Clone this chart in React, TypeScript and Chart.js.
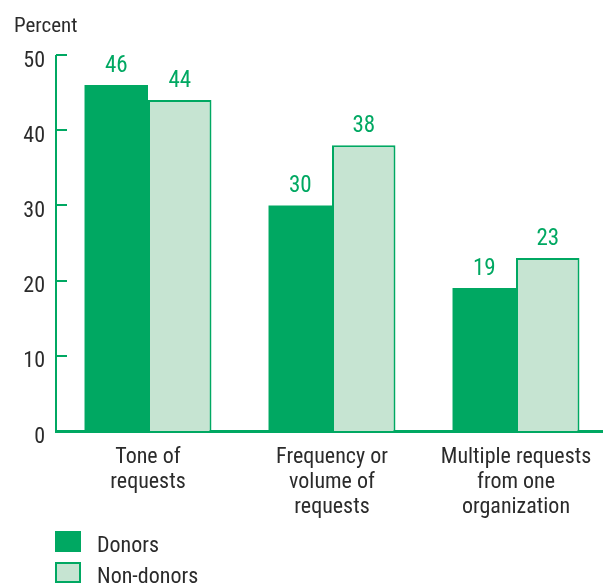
import React, { useEffect, useRef } from "react";
import { Chart, registerables } from "chart.js";

Chart.register(...registerables);

const categories: string[][] = [
  ["Tone of", "requests"],
  ["Frequency or", "volume of", "requests"],
  ["Multiple requests", "from one", "organization"],
];
const donors: number[] = [46, 30, 19];
const nonDonors: number[] = [44, 38, 23];
const yTicks: number[] = [0, 10, 20, 30, 40, 50];

const GREEN = "#00a862";
const LIGHT = "#c6e4d2";
const TEXT = "#2b2b2b";
const FONT = "'Roboto Condensed', 'Liberation Sans Narrow', 'DejaVu Sans Condensed', 'Arial Narrow', Roboto, sans-serif";

const decorPlugin = {
  id: "decor",
  afterDatasetsDraw(chart: any) {
    const ctx = chart.ctx;
    const y = chart.scales.y;
    const area = chart.chartArea;
    ctx.save();
    // y axis line with inward ticks
    ctx.strokeStyle = GREEN;
    ctx.lineWidth = 2;
    ctx.beginPath();
    const top = y.getPixelForValue(50);
    const bottom = y.getPixelForValue(0);
    ctx.moveTo(area.left, top);
    ctx.lineTo(area.left, bottom);
    ctx.stroke();
    yTicks.forEach((v) => {
      if (v === 0) return;
      const py = Math.round(y.getPixelForValue(v));
      ctx.beginPath();
      ctx.moveTo(area.left, py);
      ctx.lineTo(area.left + 11, py);
      ctx.stroke();
    });
    // value labels
    ctx.fillStyle = GREEN;
    ctx.font = `23px ${FONT}`;
    ctx.textAlign = "center";
    ctx.textBaseline = "alphabetic";
    chart.data.datasets.forEach((ds: any, di: number) => {
      const meta = chart.getDatasetMeta(di);
      meta.data.forEach((bar: any, i: number) => {
        ctx.fillText(String(ds.data[i]), bar.x, bar.y - 13);
      });
    });
    // title
    ctx.fillStyle = TEXT;
    ctx.textAlign = "left";
    ctx.font = `21px ${FONT}`;
    ctx.fillText("Percent", 14, 32);
    // legend
    const items = chart.data.datasets.map((ds: any) => ({
      label: ds.label,
      fill: ds.backgroundColor,
      border: ds.borderColor,
    }));
    items.forEach((it: any, i: number) => {
      const by = 531 + i * 31;
      ctx.fillStyle = it.fill;
      ctx.fillRect(55, by, 26, 21);
      ctx.strokeStyle = it.border;
      ctx.lineWidth = 2;
      ctx.strokeRect(56, by + 1, 24, 19);
      ctx.fillStyle = TEXT;
      ctx.font = `22px ${FONT}`;
      ctx.fillText(it.label, 97, by + 21);
    });
    ctx.restore();
  },
};

export default function App() {
  const ref = useRef<HTMLCanvasElement | null>(null);
  useEffect(() => {
    if (!ref.current) return;
    const chart = new Chart(ref.current, {
      type: "bar",
      data: {
        labels: categories,
        datasets: [
          {
            label: "Donors",
            data: donors,
            backgroundColor: GREEN,
            borderColor: GREEN,
            borderWidth: 0,
            categoryPercentage: 0.69,
            barPercentage: 1.0,
          },
          {
            label: "Non-donors",
            data: nonDonors,
            backgroundColor: LIGHT,
            borderColor: GREEN,
            borderWidth: 2,
            categoryPercentage: 0.69,
            barPercentage: 1.0,
          },
        ],
      },
      options: {
        animation: false,
        responsive: false,
        maintainAspectRatio: false,
        layout: { padding: { top: 55, left: 0, right: 0, bottom: 0 } },
        plugins: {
          legend: { display: false },
          tooltip: { enabled: false },
          title: { display: false },
        },
        scales: {
          x: {
            grid: { display: false, drawTicks: false },
            border: { display: true, color: GREEN, width: 3 },
            ticks: {
              color: TEXT,
              font: { family: FONT, size: 22, lineHeight: 25 / 22 },
              padding: 14,
              maxRotation: 0,
              autoSkip: false,
            },
            afterFit: (s: any) => {
              s.height = 154;
            },
          },
          y: {
            min: 0,
            max: 50,
            grid: { display: false, drawTicks: false },
            border: { display: false },
            ticks: {
              stepSize: 10,
              color: TEXT,
              font: { family: FONT, size: 22 },
              padding: 11,
              labelOffset: 6,
            },
            afterFit: (s: any) => {
              s.width = 56;
            },
          },
        },
      },
      plugins: [decorPlugin],
    });
    return () => chart.destroy();
  }, []);
  return (
    <div
      style={{
        position: "absolute",
        left: 0,
        top: 0,
        width: 603,
        height: 585,
        overflow: "hidden",
        background: "#fff",
      }}
    >
      <canvas ref={ref} width={608} height={585} style={{ width: 608, height: 585 }} />
    </div>
  );
}
